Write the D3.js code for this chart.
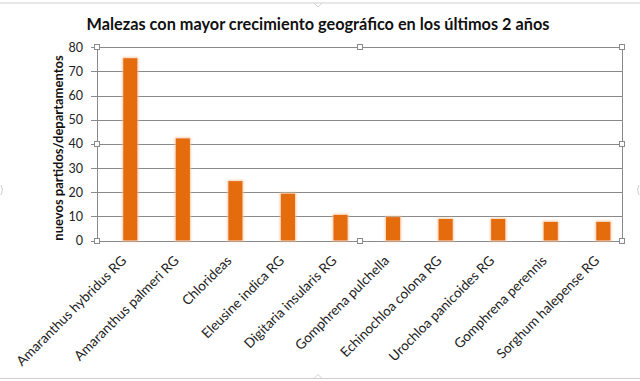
<!DOCTYPE html>
<html><head><meta charset="utf-8">
<script src="https://cdn.jsdelivr.net/npm/d3@7"></script>
<style>body{margin:0;background:#fff;overflow:hidden}</style>
</head><body>
<svg id="c" width="640" height="381"></svg>
<script>
const categories = ["Amaranthus hybridus RG","Amaranthus palmeri RG","Chlorideas","Eleusine indica RG","Digitaria insularis RG","Gomphrena pulchella","Echinochloa colona RG","Urochloa panicoides RG","Gomphrena perennis","Sorghum halepense RG"];
const values = [75.5, 42.3, 24.6, 19.4, 10.6, 9.7, 8.9, 8.9, 7.7, 7.7];
const yTicks = [0,10,20,30,40,50,60,70,80];
const titleText = "Malezas con mayor crecimiento geográfico en los últimos 2 años";
const yTitleText = "nuevos partidos/departamentos";

const FONT = "Lato, 'Open Sans', sans-serif";
const svg = d3.select("#c");
const W = 640, H = 381;
const plot = {l:97, r:622, t:47.3, b:240.5};

const defs = svg.append("defs");
const f = defs.append("filter").attr("id","glow").attr("x","-50%").attr("y","-20%").attr("width","200%").attr("height","140%");
f.append("feMorphology").attr("in","SourceAlpha").attr("operator","dilate").attr("radius",1).attr("result","d");
f.append("feGaussianBlur").attr("in","d").attr("stdDeviation",1.2).attr("result","b");
f.append("feFlood").attr("flood-color","#f7c08f").attr("flood-opacity",0.8);
f.append("feComposite").attr("in2","b").attr("operator","in").attr("result","g");
const m = f.append("feMerge");
m.append("feMergeNode").attr("in","g");
m.append("feMergeNode").attr("in","SourceGraphic");

// chart area border (selection frame)
svg.append("line").attr("x1",0).attr("x2",W).attr("y1",3).attr("y2",3).attr("stroke","#cfcfcf");
svg.append("line").attr("x1",0).attr("x2",W).attr("y1",378.5).attr("y2",378.5).attr("stroke","#cfcfcf");
svg.append("path").attr("d","M314,3 L318,7 L322,3").attr("fill","none").attr("stroke","#cfcfcf");
svg.append("path").attr("d","M314,378.5 L318,374.5 L322,378.5").attr("fill","none").attr("stroke","#cfcfcf");
svg.append("path").attr("d","M1,185 Q4,190 1,195").attr("fill","none").attr("stroke","#cfcfcf");
svg.append("path").attr("d","M639,185 Q636,190 639,195").attr("fill","none").attr("stroke","#cfcfcf");

const y = d3.scaleLinear().domain([0,80]).range([plot.b, plot.t]);
const x = d3.scaleBand().domain(categories).range([104, 629.6]).paddingInner(0.73).paddingOuter(0.365);

// gridlines
svg.append("g").selectAll("line").data(yTicks).join("line")
  .attr("x1",plot.l-6).attr("x2",plot.r)
  .attr("y1",d=>Math.round(y(d))+0.5).attr("y2",d=>Math.round(y(d))+0.5)
  .attr("stroke","#8a8a8a").attr("stroke-width",1);

// plot border
svg.append("rect").attr("x",plot.l+0.5).attr("y",Math.round(plot.t)+0.5)
  .attr("width",plot.r-plot.l).attr("height",Math.round(plot.b)-Math.round(plot.t))
  .attr("fill","none").attr("stroke","#8a8a8a");

// y tick labels
svg.append("g").selectAll("text").data(yTicks).join("text")
  .attr("x",83).attr("y",d=>y(d)).attr("dy","0.36em")
  .attr("text-anchor","end").attr("font-family",FONT).attr("font-size",12.5).attr("fill","#222")
  .text(d=>d);

// bars
svg.append("g").selectAll("rect").data(values).join("rect")
  .attr("x",(d,i)=>x(categories[i])).attr("width",x.bandwidth())
  .attr("y",d=>y(d)).attr("height",d=>y(0)-y(d))
  .attr("fill","#e46c0a").attr("filter","url(#glow)");

// x labels
svg.append("g").selectAll("text").data(categories).join("text")
  .attr("transform",d=>`translate(${x(d)+x.bandwidth()/2-3},261.5) rotate(-45)`)
  .attr("text-anchor","end").attr("font-family",FONT).attr("font-size",13.6).attr("fill","#222")
  .text(d=>d);

// handles
const hx = [plot.l, (plot.l+plot.r)/2, plot.r], hy = [plot.t, (plot.t+plot.b)/2, plot.b];
const handles = [];
hx.forEach(a=>hy.forEach(b=>{ if(!(a===hx[1]&&b===hy[1])) handles.push([a,b]); }));
svg.append("g").selectAll("rect").data(handles).join("rect")
  .attr("x",d=>Math.round(d[0])-2.5).attr("y",d=>Math.round(d[1])-2.5).attr("width",5).attr("height",5)
  .attr("fill","#fff").attr("stroke","#8a8a8a");

// title
svg.append("text").attr("x",318).attr("y",30).attr("text-anchor","middle")
  .attr("font-family",FONT).attr("font-weight","bold").attr("font-size",16.3).attr("fill","#111")
  .text(titleText);

// y title
svg.append("text").attr("transform",`translate(63,148) rotate(-90)`).attr("text-anchor","middle")
  .attr("font-family",FONT).attr("font-weight","bold").attr("font-size",13).attr("fill","#111")
  .text(yTitleText);
</script>
</body></html>
